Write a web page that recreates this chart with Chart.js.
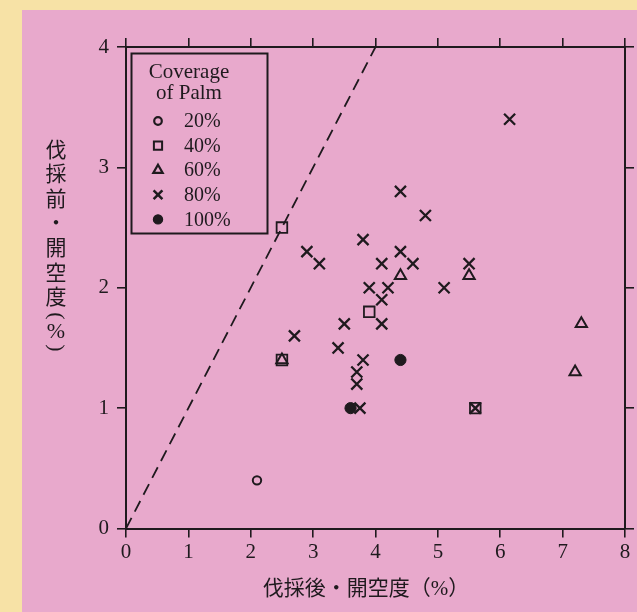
<!DOCTYPE html>
<html>
<head>
<meta charset="utf-8">
<script src="https://cdn.jsdelivr.net/npm/chart.js@4/dist/chart.umd.min.js"></script>
<style>
  html, body { margin: 0; padding: 0; background: #F7E2A6; }
  canvas { display: block; }
</style>
</head>
<body>
<canvas id="chart" width="637" height="612"></canvas>
<script>
// axis ticks
const xTicks = [0, 1, 2, 3, 4, 5, 6, 7, 8];
const yTicks = [0, 1, 2, 3, 4];

// legend labels (coverage of palm)
const coverageLabels = ['20%', '40%', '60%', '80%', '100%'];

// [after cutting, before cutting] openness (%)
const palm20 = [[2.1, 0.4]];
const palm40 = [[2.5, 2.5], [3.9, 1.8], [2.5, 1.4], [5.6, 1.0]];
const palm60 = [[4.4, 2.1], [5.5, 2.1], [7.3, 1.7], [7.2, 1.3], [2.5, 1.4]];
const palm80 = [
    [4.4, 2.8], [4.8, 2.6], [3.8, 2.4], [2.9, 2.3], [3.1, 2.2], [4.1, 2.2],
    [4.4, 2.3], [4.6, 2.2], [3.9, 2.0], [4.2, 2.0], [5.1, 2.0], [5.5, 2.2],
    [6.15, 3.4], [4.1, 1.9], [3.5, 1.7], [4.1, 1.7], [2.7, 1.6], [3.4, 1.5],
    [3.8, 1.4], [3.7, 1.3], [3.7, 1.2], [3.75, 1.0], [5.6, 1.0]
];
const palm100 = [[4.4, 1.4], [3.6, 1.0]];

// 1:1 reference line
const equalLine = [[0, 0], [4, 4]];

const xTitle = '伐採後・開空度（%）';
const yTitle = ['伐', '採', '前', '・', '開', '空', '度'];

const INK = '#1f1a1e';
const PINK = '#E8A9CC';
const SERIF = "'Liberation Serif', 'Noto Sans CJK JP', serif";

const toXY = arr => arr.map(p => ({ x: p[0], y: p[1] }));

const symbols = [
    { style: 'circle', radius: 4.2, fill: 'rgba(0,0,0,0)', width: 2, legendRadius: 3.8 },
    { style: 'rect', radius: 7.5, fill: 'rgba(0,0,0,0)', width: 1.8, legendRadius: 5.8 },
    { style: 'triangle', radius: 6.5, fill: 'rgba(0,0,0,0)', width: 2, legendRadius: 5.4 },
    { style: 'crossRot', radius: 7.8, fill: 'rgba(0,0,0,0)', width: 2.3, legendRadius: 6.2 },
    { style: 'circle', radius: 5.6, fill: INK, width: 1, legendRadius: 4.6 }
];
const seriesData = [palm20, palm40, palm60, palm80, palm100];

const scatterSets = seriesData.map((arr, i) => ({
    label: coverageLabels[i],
    data: toXY(arr),
    pointStyle: symbols[i].style,
    pointRadius: symbols[i].radius,
    pointBorderWidth: symbols[i].width,
    pointBackgroundColor: symbols[i].fill,
    pointBorderColor: INK
}));

// page background: yellow margin + pink panel
const backgroundPlugin = {
    id: 'panel',
    beforeDraw(chart) {
        const ctx = chart.ctx;
        ctx.save();
        ctx.fillStyle = '#F7E2A6';
        ctx.fillRect(0, 0, chart.width, chart.height);
        ctx.fillStyle = PINK;
        ctx.fillRect(22, 10, chart.width - 22, chart.height - 10);
        ctx.restore();
    }
};

// boxed legend and axis titles (vertical japanese on the left)
const decorPlugin = {
    id: 'decor',
    afterDraw(chart) {
        const ctx = chart.ctx;
        ctx.save();
        ctx.fillStyle = INK;
        ctx.strokeStyle = INK;

        // legend box
        ctx.lineWidth = 2;
        ctx.strokeRect(131.5, 53.5, 136, 180);
        ctx.font = '21px ' + SERIF;
        ctx.textAlign = 'center';
        ctx.textBaseline = 'middle';
        ctx.fillText('Coverage', 189, 72);
        ctx.fillText('of Palm', 189, 93);
        ctx.font = '20px ' + SERIF;
        ctx.textAlign = 'left';
        coverageLabels.forEach((lab, i) => {
            const y = 121 + i * 24.6;
            const s = symbols[i];
            ctx.fillStyle = s.fill;
            ctx.lineWidth = s.width + 0.2;
            Chart.helpers.drawPoint(ctx, {
                pointStyle: s.style, rotation: 0, radius: s.legendRadius, borderWidth: s.width
            }, 158, y);
            ctx.fillStyle = INK;
            ctx.fillText(lab, 184, y + 1);
        });

        // x title
        ctx.font = '21px ' + SERIF;
        ctx.textAlign = 'center';
        ctx.fillText(xTitle, 366, 589);

        // y title, stacked characters, then a rotated "(%)"
        yTitle.forEach((ch, i) => {
            ctx.fillText(ch, 56, 151 + i * 24.6);
        });
        ctx.font = '22px ' + SERIF;
        ctx.fillText('%', 56, 332);
        [['(', 316], [')', 348]].forEach(([p, y]) => {
            ctx.save();
            ctx.translate(56, y);
            ctx.rotate(Math.PI / 2);
            ctx.fillText(p, 0, 0);
            ctx.restore();
        });
        ctx.restore();
    }
};

const axisGrid = {
    drawOnChartArea: false,
    drawTicks: true,
    tickLength: 9,
    color: INK,
    lineWidth: 1.6
};
const axisBorder = { display: true, color: INK, width: 2 };
const tickFont = { family: SERIF, size: 21 };

new Chart(document.getElementById('chart'), {
    type: 'scatter',
    data: {
        datasets: [
            {
                type: 'line',
                data: toXY(equalLine),
                showLine: true,
                borderColor: INK,
                borderWidth: 1.8,
                borderDash: [12, 7],
                pointRadius: 0,
                fill: false
            },
            ...scatterSets
        ]
    },
    options: {
        responsive: false,
        animation: false,
        events: [],
        layout: { padding: 0 },
        plugins: {
            legend: { display: false },
            tooltip: { enabled: false }
        },
        scales: {
            x: {
                type: 'linear', position: 'bottom',
                min: xTicks[0], max: xTicks[xTicks.length - 1],
                afterBuildTicks: s => { s.ticks = xTicks.map(v => ({ value: v })); },
                afterFit: s => { s.height = 83.5; },
                ticks: { color: INK, font: tickFont, padding: 2 },
                grid: axisGrid, border: axisBorder
            },
            x2: {
                type: 'linear', position: 'top',
                min: xTicks[0], max: xTicks[xTicks.length - 1],
                afterBuildTicks: s => { s.ticks = xTicks.map(v => ({ value: v })); },
                afterFit: s => { s.height = 47; },
                ticks: { display: false },
                grid: axisGrid, border: axisBorder
            },
            y: {
                type: 'linear', position: 'left',
                min: yTicks[0], max: yTicks[yTicks.length - 1],
                afterBuildTicks: s => { s.ticks = yTicks.map(v => ({ value: v })); },
                afterFit: s => { s.width = 126; },
                ticks: { color: INK, font: tickFont, padding: 8 },
                grid: axisGrid, border: axisBorder
            },
            y2: {
                type: 'linear', position: 'right',
                min: yTicks[0], max: yTicks[yTicks.length - 1],
                afterBuildTicks: s => { s.ticks = yTicks.map(v => ({ value: v })); },
                afterFit: s => { s.width = 12; },
                ticks: { display: false },
                grid: axisGrid, border: axisBorder
            }
        }
    },
    plugins: [backgroundPlugin, decorPlugin]
});
</script>
</body>
</html>
